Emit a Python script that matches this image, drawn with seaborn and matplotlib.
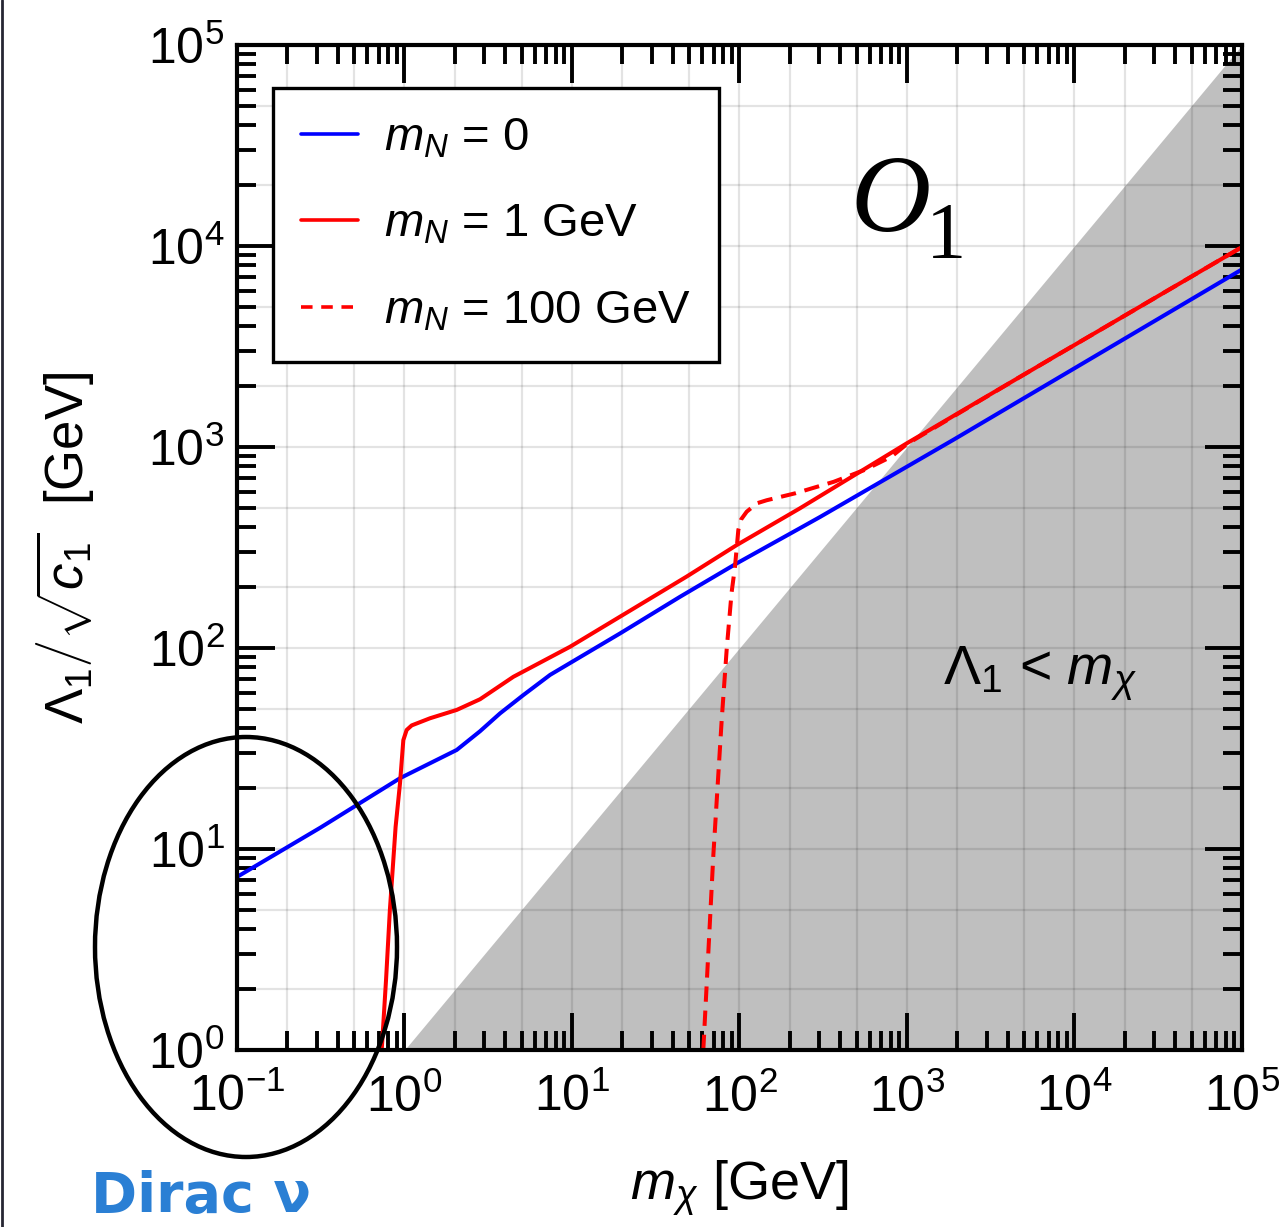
import numpy as np
import pandas as pd
import matplotlib
matplotlib.use("Agg")
import matplotlib.pyplot as plt
import seaborn as sns
from matplotlib import ticker
from matplotlib.patches import Ellipse
from matplotlib.lines import Line2D

# ---------------- data ----------------
mN0_x = [0.1, 0.316, 0.94, 2.05, 2.82, 3.72, 5.12, 7.4, 19.4, 44.2, 96.2, 229.6, 302.7, 1892, 1e5]
mN0_y = [7.26, 12.8, 22.5, 31.1, 38.5, 47.3, 58.3, 73.5, 118.3, 179.9, 263.6, 394.5, 448.7, 1086, 7650]

mN1_x = [0.731, 0.776, 0.818, 0.885, 0.94, 0.984, 1.03, 1.104, 1.419, 2.051, 2.825, 4.467, 9.73,
         48.3, 96.2, 229.6, 995, 4732, 1e5]
mN1_y = [1.0, 2.24, 4.98, 12.9, 21.2, 34.8, 39.1, 41.2, 44.7, 49.2, 55.6, 71.9, 101.4,
         226.5, 325.1, 495.5, 1042, 2234, 9886]

mN100_x = [60.8, 69.8, 78.3, 83.9, 89.7, 94.0, 98.4, 102.3, 110.4, 127.1, 145.2, 215.8, 365.6,
           558.5, 807, 1000, 4732, 1e5]
mN100_y = [1.0, 9.33, 43.9, 99.1, 188.8, 254.1, 386.4, 436.5, 476.4, 524.8, 543.3, 588.8, 671.4,
           769.1, 895.4, 1035, 2234, 9886]

excl_x = [1.0, 1e5]          # region Lambda_1 < m_chi
excl_lo = [1.0, 1.0]
excl_hi = [1.0, 1e5]

legend_labels = [r"$m_N$ = 0", r"$m_N$ = 1 GeV", r"$m_N$ = 100 GeV"]
x_ticks = [1e-1, 1e0, 1e1, 1e2, 1e3, 1e4, 1e5]
y_ticks = [1e0, 1e1, 1e2, 1e3, 1e4, 1e5]

# ---------------- style ----------------
sns.set_style("white")
plt.rcParams["font.family"] = ["Liberation Sans", "DejaVu Sans"]
plt.rcParams["mathtext.fontset"] = "custom"
plt.rcParams["mathtext.rm"] = "Liberation Sans"
plt.rcParams["mathtext.it"] = "Liberation Sans:italic"
plt.rcParams["mathtext.bf"] = "Liberation Sans:bold"
plt.rcParams["mathtext.sf"] = "Liberation Sans"
for k in ("text.color", "axes.labelcolor", "xtick.color", "ytick.color", "axes.edgecolor"):
    plt.rcParams[k] = "black"

fig = plt.figure(figsize=(12.88, 12.27), dpi=100)
ax = fig.add_axes([237 / 1288, 1 - 1050 / 1227, 1005 / 1288, 1005 / 1227])
ax.set_xscale("log")
ax.set_yscale("log")
ax.set_xlim(1e-1, 1e5)
ax.set_ylim(1e0, 1e5)
ax.set_axisbelow(False)

# excluded region
ax.fill_between(excl_x, excl_lo, excl_hi, color="#bfbfbf", lw=0, zorder=1)

# grid at 1, 2, 5 per decade
for d in range(-1, 5):
    for s in (1, 2, 5):
        v = s * 10.0 ** d
        if 1e-1 < v < 1e5:
            ax.axvline(v, color="black", alpha=0.11, lw=1.6, zorder=2)
for d in range(0, 5):
    for s in (1, 2, 5):
        v = s * 10.0 ** d
        if 1e0 < v < 1e5:
            ax.axhline(v, color="black", alpha=0.11, lw=1.6, zorder=2)

lw = 2.9
sns.lineplot(x=mN0_x, y=mN0_y, ax=ax, color="#0000ff", lw=lw, sort=False, estimator=None, zorder=4)
sns.lineplot(x=mN1_x, y=mN1_y, ax=ax, color="#ff0000", lw=lw, sort=False, estimator=None, zorder=4)
sns.lineplot(x=mN100_x, y=mN100_y, ax=ax, color="#ff0000", lw=lw, sort=False, estimator=None,
             linestyle=(0, (3.8, 2.2)), zorder=4)

# ticks
ax.xaxis.set_major_locator(ticker.FixedLocator(x_ticks))
ax.yaxis.set_major_locator(ticker.FixedLocator(y_ticks))
ax.xaxis.set_major_formatter(ticker.LogFormatterSciNotation())
ax.yaxis.set_major_formatter(ticker.LogFormatterSciNotation())
ax.xaxis.set_minor_locator(ticker.LogLocator(base=10, subs=np.arange(2, 10), numticks=20))
ax.yaxis.set_minor_locator(ticker.LogLocator(base=10, subs=np.arange(2, 10), numticks=20))
ax.xaxis.set_minor_formatter(ticker.NullFormatter())
ax.yaxis.set_minor_formatter(ticker.NullFormatter())
ax.tick_params(which="both", direction="in", bottom=True, left=True, top=True, right=True,
               width=2.8, color="black")
ax.tick_params(which="major", length=27)
ax.tick_params(which="minor", length=14)
ax.tick_params(axis="x", which="major", labelsize=36, pad=17, labelcolor="black")
ax.tick_params(axis="y", which="major", labelsize=36, pad=9, labelcolor="black")
for sp in ax.spines.values():
    sp.set_linewidth(3)
    sp.set_color("black")
    sp.set_zorder(6)

ax.set_xlabel(r"$m_\chi$ [GeV]", fontsize=39)
ax.xaxis.set_label_coords(0.5, -0.108)
ax.xaxis.label.set_va("top")
ax.set_ylabel(r"$\Lambda_1\left/\sqrt{c_1}\right.$  [GeV]", fontsize=38)
ax.yaxis.set_label_coords(-0.139, 0.5)

# legend
handles = [Line2D([], [], color="#0000ff", lw=2.6),
           Line2D([], [], color="#ff0000", lw=2.6),
           Line2D([], [], color="#ff0000", lw=2.6, linestyle=(0, (3.2, 2.4)))]
leg = ax.legend(handles, legend_labels, loc="upper left",
                bbox_to_anchor=((273 - 237) / 1005, (1050 - 88) / 1005), borderaxespad=0,
                fontsize=34, frameon=True, fancybox=False, framealpha=1, edgecolor="black",
                handlelength=1.2, handletextpad=0.55, borderpad=0.6, labelspacing=0.9)
leg.get_frame().set_linewidth(2.4)
leg.set_zorder(7)

# annotations
ax.text((850 - 237) / 1005, (1050 - 231) / 1005, "O", transform=ax.transAxes,
        family="Liberation Serif", style="italic", fontsize=80, ha="left", va="baseline", zorder=5)
ax.text((926 - 237) / 1005, (1050 - 258) / 1005, "1", transform=ax.transAxes,
        family="Liberation Serif", fontsize=58, ha="left", va="baseline", zorder=5)
ax.text((1040 - 237) / 1005, (1050 - 684) / 1005, r"$\Lambda_1$ < $m_\chi$", transform=ax.transAxes,
        fontsize=40, ha="center", va="baseline", zorder=5)

# hand-drawn style highlight
ell = Ellipse((246 / 1288, 1 - 947 / 1227), 302 / 1288, 420 / 1227, transform=fig.transFigure,
              fill=False, edgecolor="black", lw=3.2, zorder=10)
fig.add_artist(ell)
fig.text(201 / 1288, 1 - 1197 / 1227, "Dirac ν", color="#2a7fd4", fontsize=40,
         family="DejaVu Sans", fontweight="bold", ha="center", va="center")
fig.add_artist(Line2D([0.0015, 0.0015], [0, 1], transform=fig.transFigure, color="#262633", lw=2))

fig.savefig("out.png", dpi=100)
